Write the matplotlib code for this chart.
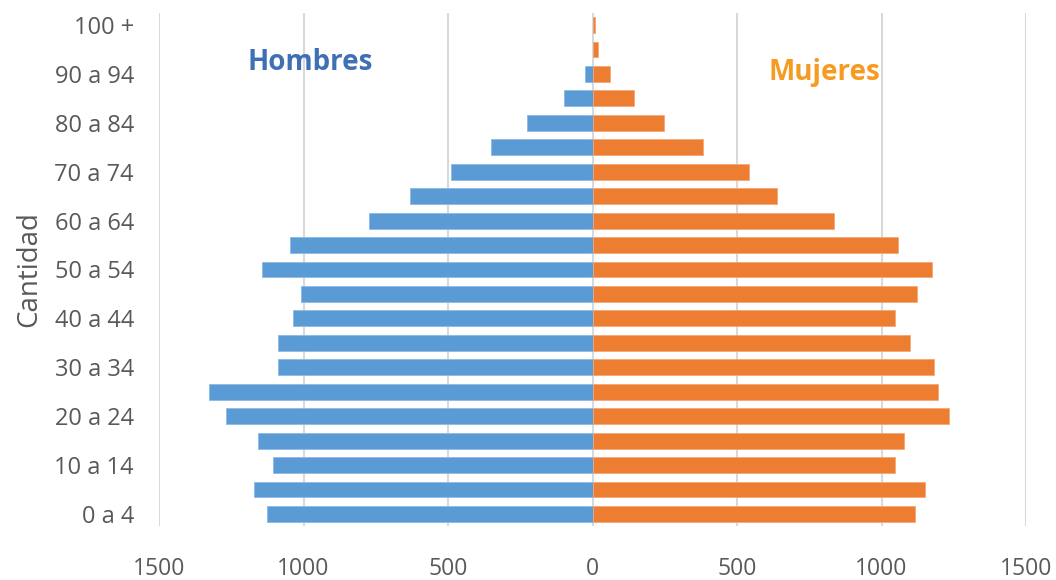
import numpy as np
import matplotlib.pyplot as plt

# grupos de edad (de abajo hacia arriba)
grupos = ['0 a 4', '5 a 9', '10 a 14', '15 a 19', '20 a 24', '25 a 29',
          '30 a 34', '35 a 39', '40 a 44', '45 a 49', '50 a 54', '55 a 59',
          '60 a 64', '65 a 69', '70 a 74', '75 a 79', '80 a 84', '85 a 89',
          '90 a 94', '95 a 99', '100 +']

hombres = [1128, 1172, 1105, 1157, 1268, 1327, 1090, 1090, 1038, 1009,
           1142, 1046, 772, 632, 491, 351, 225, 100, 26, 0, 0]
mujeres = [1115, 1152, 1048, 1078, 1233, 1197, 1182, 1100, 1048, 1122,
           1174, 1057, 837, 638, 543, 381, 247, 145, 62, 20, 10]

ticks_x = [-1500, -1000, -500, 0, 500, 1000, 1500]

gris = '#595959'
plt.rcParams['font.family'] = ['Open Sans', 'DejaVu Sans']

fig = plt.figure(figsize=(10.56, 5.8), dpi=100)
ax = fig.add_axes([0.1506, 0.0928, 0.8210, 0.8851])

y = np.arange(len(grupos))
ax.barh(y, -np.array(hombres), height=0.65, color='#5B9BD5',
        edgecolor='#8DB9E3', linewidth=0.6, zorder=3)
ax.barh(y, mujeres, height=0.65, color='#ED7D31',
        edgecolor='#F3A877', linewidth=0.6, zorder=3)

ax.set_xlim(-1500, 1500)
ax.set_ylim(-0.5, len(grupos) - 0.5)
ax.set_xticks(ticks_x)
ax.set_xticklabels([str(abs(t)) for t in ticks_x])
ax.set_yticks(y[::2])
ax.set_yticklabels(grupos[::2])

ax.grid(axis='x', color='#D9D9D9', linewidth=1.5, zorder=0)
ax.grid(axis='y', visible=False)
for s in ax.spines.values():
    s.set_visible(False)
ax.tick_params(axis='x', length=0, pad=22, labelsize=16.5, labelcolor=gris)
ax.tick_params(axis='y', length=0, pad=18, labelsize=17, labelcolor=gris)

ax.set_ylabel('Cantidad', fontsize=20, color=gris, labelpad=8)

ax.text(-976, 18.45, 'Hombres', fontsize=20, fontweight='bold',
        color='#3F6FB5', ha='center', va='center')
ax.text(801, 18.04, 'Mujeres', fontsize=20, fontweight='bold',
        color='#F59B22', ha='center', va='center')

fig.savefig('out.png', dpi=100)
